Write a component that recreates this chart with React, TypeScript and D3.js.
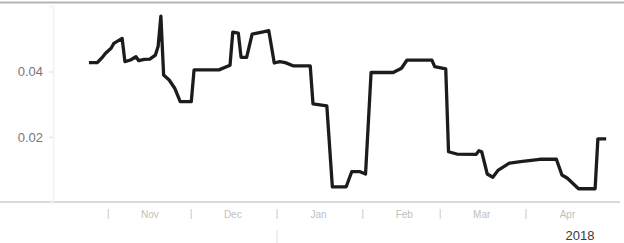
import React, { useRef, useEffect } from "react";
import { select, scaleLinear, scaleTime, line, axisLeft, timeParse, timeMonth, timeDay, curveLinear } from "d3";

const dates = [
  "2017-10-25", "2017-10-28", "2017-10-30", "2017-10-31", "2017-11-02", "2017-11-03", "2017-11-06",
  "2017-11-07", "2017-11-09", "2017-11-11", "2017-11-12", "2017-11-14", "2017-11-16", "2017-11-18",
  "2017-11-19", "2017-11-20", "2017-11-21", "2017-11-23", "2017-11-25", "2017-11-27", "2017-12-01",
  "2017-12-02", "2017-12-11", "2017-12-15", "2017-12-16", "2017-12-18", "2017-12-19", "2017-12-21",
  "2017-12-23", "2017-12-27", "2017-12-29", "2017-12-31", "2018-01-02", "2018-01-04", "2018-01-07",
  "2018-01-13", "2018-01-14", "2018-01-19", "2018-01-21", "2018-01-26", "2018-01-28", "2018-01-31",
  "2018-02-02", "2018-02-04", "2018-02-12", "2018-02-15", "2018-02-17", "2018-02-26", "2018-02-27",
  "2018-03-03", "2018-03-04", "2018-03-07", "2018-03-14", "2018-03-15", "2018-03-16", "2018-03-18",
  "2018-03-20", "2018-03-22", "2018-03-26", "2018-03-30", "2018-04-06", "2018-04-12", "2018-04-14",
  "2018-04-16", "2018-04-20", "2018-04-26", "2018-04-27", "2018-04-30",
];

const values = [
  0.0427, 0.0427, 0.0445, 0.0456, 0.0471, 0.0486, 0.0501,
  0.0430, 0.0435, 0.0445, 0.0433, 0.0437, 0.0438, 0.0450,
  0.0476, 0.0569, 0.0389, 0.0374, 0.0349, 0.0308, 0.0308,
  0.0405, 0.0405, 0.0419, 0.0520, 0.0517, 0.0443, 0.0443,
  0.0514, 0.0521, 0.0525, 0.0426, 0.0430, 0.0427, 0.0417,
  0.0417, 0.0301, 0.0295, 0.0048, 0.0048, 0.0094, 0.0094,
  0.0087, 0.0397, 0.0397, 0.0410, 0.0435, 0.0435, 0.0415,
  0.0408, 0.0155, 0.0148, 0.0147, 0.0158, 0.0155, 0.0087,
  0.0077, 0.0099, 0.0120, 0.0125, 0.0132, 0.0132, 0.0084,
  0.0074, 0.0042, 0.0042, 0.0194, 0.0194,
];

const monthLabels = ["Nov", "Dec", "Jan", "Feb", "Mar", "Apr"];
const yTicks = [0.02, 0.04];
const yearLabel = "2018";

const parse = timeParse("%Y-%m-%d");

const App = () => {
  const yAxisRef = useRef<SVGGElement>(null);

  const width = 624;
  const height = 243;

  const x = scaleTime()
    .domain([parse("2017-10-12")!, parse("2018-05-05")!])
    .range([53, 620]);

  const y = scaleLinear().domain([0, 0.06]).range([202.5, 6]);

  const points = dates.map((d, i) => ({ date: parse(d)!, value: values[i] }));

  const path = line<{ date: Date; value: number }>()
    .x((d) => x(d.date))
    .y((d) => y(d.value))
    .curve(curveLinear)(points);

  // month boundaries + label centred in each month
  const monthStarts = timeMonth.range(parse("2017-11-01")!, parse("2018-05-01")!);

  useEffect(() => {
    const g = select(yAxisRef.current);
    g.call(axisLeft(y).tickValues(yTicks).tickSize(4).tickPadding(6).tickFormat((v) => (v as number).toFixed(2)));
    g.select(".domain").attr("stroke", "#f1f1f1").attr("stroke-width", 1.5);
    g.selectAll(".tick line").attr("stroke", "#e6e6e6").attr("stroke-width", 1.5);
    g.selectAll(".tick text")
      .attr("fill", "#777")
      .attr("font-size", 13)
      .attr("font-family", "Liberation Sans, Arial, sans-serif");
  }, []);

  return (
    <svg
      width={width}
      height={height}
      style={{ position: "absolute", left: 0, top: 0, background: "#fff" }}
    >
      {/* top frame */}
      <line x1={0} x2={width} y1={2.5} y2={2.5} stroke="#b4b4b4" strokeWidth={2} />
      {/* bottom axis */}
      <line x1={0} x2={620} y1={202} y2={202} stroke="#cdcdcd" strokeWidth={1.5} />
      <g ref={yAxisRef} transform="translate(53,0)" />

      {monthStarts.map((m, i) => {
        const mid = timeDay.offset(m, 15);
        return (
          <g key={i}>
            <line x1={x(m)} x2={x(m)} y1={209} y2={219} stroke="#d2d2d2" strokeWidth={1.2} />
            <text
              x={x(mid)}
              y={218}
              textAnchor="middle"
              fontSize={10}
              fill="#c0c0c0"
              fontFamily="Liberation Sans, Arial, sans-serif"
            >
              {monthLabels[i]}
            </text>
          </g>
        );
      })}
      <line
        x1={x(parse("2018-01-01")!)}
        x2={x(parse("2018-01-01")!)}
        y1={230}
        y2={243}
        stroke="#e4e4e4"
        strokeWidth={1.2}
      />
      <text
        x={580}
        y={240}
        textAnchor="middle"
        fontSize={13}
        fill="#3a3a3a"
        fontFamily="Liberation Sans, Arial, sans-serif"
      >
        {yearLabel}
      </text>

      <path d={path ?? ""} fill="none" stroke="#1c1c1c" strokeWidth={3.3} strokeLinejoin="round" />
    </svg>
  );
};

export default App;
